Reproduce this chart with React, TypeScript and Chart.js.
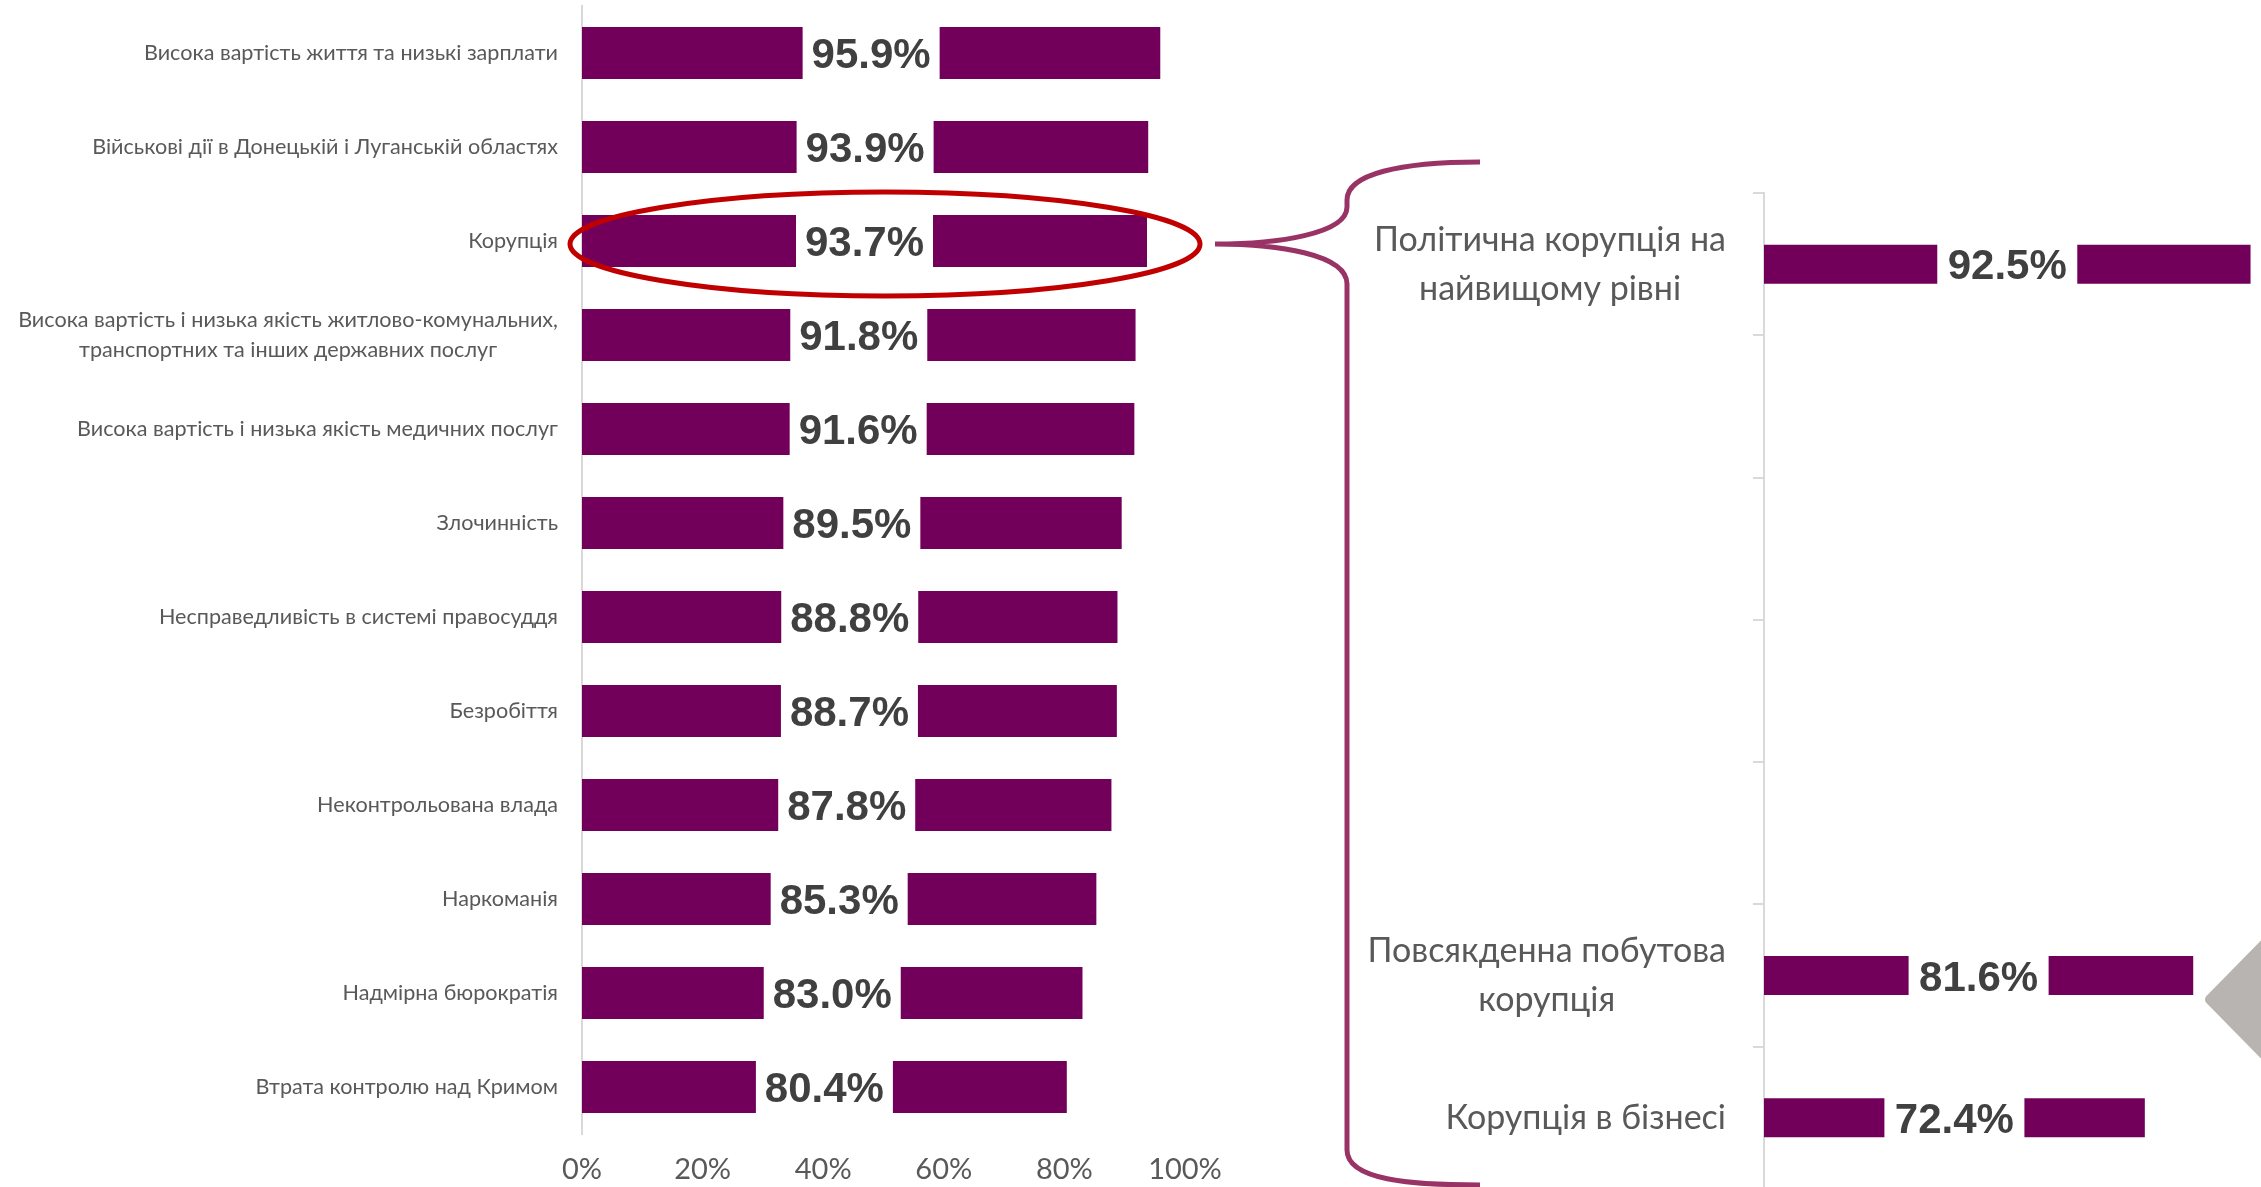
import React, { useEffect, useRef } from 'react';
import { Chart, registerables } from 'chart.js';

Chart.register(...registerables);

// ---------- DATA ----------
const leftCategories: string[][] = [
  ['Висока вартість життя та низькі зарплати'],
  ['Військові дії в Донецькій і Луганській областях'],
  ['Корупція'],
  ['Висока вартість і низька якість житлово-комунальних,', 'транспортних та інших державних послуг'],
  ['Висока вартість і низька якість медичних послуг'],
  ['Злочинність'],
  ['Несправедливість в системі правосуддя'],
  ['Безробіття'],
  ['Неконтрольована влада'],
  ['Наркоманія'],
  ['Надмірна бюрократія'],
  ['Втрата контролю над Кримом'],
];
const leftValues: number[] = [95.9, 93.9, 93.7, 91.8, 91.6, 89.5, 88.8, 88.7, 87.8, 85.3, 83.0, 80.4];
const xTickValues: number[] = [0, 20, 40, 60, 80, 100];
const highlightIndex = 2;

const rightCategories: string[][] = [
  ['Політична корупція на', 'найвищому рівні'],
  [''],
  [''],
  [''],
  [''],
  ['Повсякденна побутова', 'корупція'],
  ['Корупція в бізнесі'],
];
const rightValues: (number | null)[] = [92.5, null, null, null, null, 81.6, 72.4];

// ---------- STYLE ----------
const BAR_COLOR = '#72005a';
const LABEL_COLOR = '#595959';
const VALUE_COLOR = '#404040';
const AXIS_COLOR = '#d9d9d9';
const BRACE_COLOR = '#993366';
const ELLIPSE_COLOR = '#c00000';

const valueLabelPlugin = (boxW: number, fontSize: number) => ({
  id: 'valueLabels',
  afterDatasetsDraw(chart: any) {
    const ctx = chart.ctx;
    const meta = chart.getDatasetMeta(0);
    const data = chart.data.datasets[0].data;
    ctx.save();
    meta.data.forEach((bar: any, i: number) => {
      const v = data[i];
      if (v == null) return;
      const p = bar.getProps(['x', 'y', 'base', 'height'], true);
      const cx = (p.x + p.base) / 2;
      ctx.fillStyle = '#ffffff';
      ctx.fillRect(cx - boxW / 2, p.y - p.height / 2 - 1, boxW, p.height + 2);
      ctx.fillStyle = VALUE_COLOR;
      ctx.font = `bold ${fontSize}px "Liberation Sans", Arial, sans-serif`;
      ctx.textAlign = 'center';
      ctx.textBaseline = 'alphabetic';
      ctx.fillText(Number(v).toFixed(1) + '%', cx, p.y + fontSize * 0.716 / 2);
    });
    ctx.restore();
  },
});

const categoryLabelPlugin = (fontSize: number, lineHeight: number, gap: number) => ({
  id: 'catLabels',
  afterDraw(chart: any) {
    const ctx = chart.ctx;
    const yScale = chart.scales.y;
    const labels = chart.data.labels as string[][];
    ctx.save();
    ctx.font = `${fontSize}px Lato, "Open Sans", sans-serif`;
    ctx.fillStyle = LABEL_COLOR;
    ctx.textAlign = 'center';
    ctx.textBaseline = 'middle';
    labels.forEach((lab, i) => {
      const lines = Array.isArray(lab) ? lab : [lab];
      if (!lines.join('')) return;
      const w = Math.max(...lines.map((l) => ctx.measureText(l).width));
      const right = chart.chartArea.left - gap;
      const cx = right - w / 2;
      const cy = yScale.getPixelForValue(i);
      const n = lines.length;
      lines.forEach((l, j) => ctx.fillText(l, cx, cy + (j - (n - 1) / 2) * lineHeight));
    });
    ctx.restore();
  },
});

const leftDecorPlugin = {
  id: 'leftDecor',
  afterDraw(chart: any) {
    const ctx = chart.ctx;
    const xs = chart.scales.x;
    const ys = chart.scales.y;
    const cy = ys.getPixelForValue(highlightIndex) + 3;
    const left = xs.getPixelForValue(0) - 12;
    const right = xs.getPixelForValue(leftValues[highlightIndex]) + 53;
    const cx = (left + right) / 2;
    const rx = (right - left) / 2;
    ctx.save();
    ctx.strokeStyle = ELLIPSE_COLOR;
    ctx.lineWidth = 5;
    ctx.beginPath();
    ctx.ellipse(cx, cy, rx, 52, 0, 0, Math.PI * 2);
    ctx.stroke();

    // brace
    const tipX = right + 15;
    const vx = 1347;
    const endX = 1480;
    const topY = 162;
    const botY = 1185;
    ctx.strokeStyle = BRACE_COLOR;
    ctx.lineWidth = 5;
    ctx.lineCap = 'butt';
    ctx.beginPath();
    ctx.moveTo(endX, topY);
    ctx.bezierCurveTo(endX - 80, topY, vx, topY + 12, vx, topY + 38);
    ctx.lineTo(vx, topY + 45);
    ctx.bezierCurveTo(vx, cy - 10, vx - 70, cy, tipX, cy);
    ctx.moveTo(tipX, cy);
    ctx.bezierCurveTo(vx - 70, cy, vx, cy + 10, vx, cy + 40);
    ctx.lineTo(vx, botY - 35);
    ctx.bezierCurveTo(vx, botY - 5, endX - 70, botY, endX, botY);
    ctx.stroke();
    ctx.restore();
  },
};

const rightDecorPlugin = {
  id: 'rightDecor',
  afterDraw(chart: any) {
    const ctx = chart.ctx;
    const ys = chart.scales.y;
    const cy = ys.getPixelForValue(5) + 24;
    const tipX = 865;
    ctx.save();
    ctx.fillStyle = '#b8b4b2';
    ctx.strokeStyle = '#b8b4b2';
    ctx.lineJoin = 'round';
    ctx.lineWidth = 10;
    ctx.beginPath();
    ctx.moveTo(tipX + 62, cy - 58);
    ctx.lineTo(tipX + 5, cy);
    ctx.lineTo(tipX + 62, cy + 58);
    ctx.lineTo(tipX + 120, cy + 58);
    ctx.lineTo(tipX + 120, cy - 58);
    ctx.closePath();
    ctx.fill();
    ctx.stroke();
    ctx.restore();
  },
};

export default function App() {
  const leftRef = useRef<HTMLCanvasElement>(null);
  const rightRef = useRef<HTMLCanvasElement>(null);

  useEffect(() => {
    document.body.style.margin = '0';
    const left = new Chart(leftRef.current!, {
      type: 'bar',
      data: {
        labels: leftCategories,
        datasets: [
          {
            data: leftValues,
            backgroundColor: BAR_COLOR,
            barPercentage: 0.555,
            categoryPercentage: 1,
          },
        ],
      },
      options: {
        indexAxis: 'y',
        responsive: false,
        animation: false,
        layout: { padding: { top: 6, right: 315, left: 0, bottom: 0 } },
        plugins: { legend: { display: false }, tooltip: { enabled: false } },
        scales: {
          y: {
            type: 'category',
            ticks: { display: false },
            grid: { display: false },
            border: { display: true, color: AXIS_COLOR, width: 2 },
            afterFit: (s: any) => {
              s.width = 582;
            },
          },
          x: {
            min: 0,
            max: 100,
            afterBuildTicks: (s: any) => {
              s.ticks = xTickValues.map((v) => ({ value: v }));
            },
            ticks: {
              callback: (v: any) => v + '%',
              color: LABEL_COLOR,
              font: { family: 'Lato, "Open Sans", sans-serif', size: 29 },
              padding: 10,
              autoSkip: false,
              maxRotation: 0,
            },
            grid: { display: false },
            border: { display: false },
            afterFit: (s: any) => {
              s.height = 53;
            },
          },
        },
      },
      plugins: [valueLabelPlugin(137, 42), categoryLabelPlugin(21.6, 30, 24), leftDecorPlugin],
    } as any);

    const right = new Chart(rightRef.current!, {
      type: 'bar',
      data: {
        labels: rightCategories,
        datasets: [
          {
            data: rightValues,
            backgroundColor: BAR_COLOR,
            barPercentage: 0.274,
            categoryPercentage: 1,
          },
        ],
      },
      options: {
        indexAxis: 'y',
        responsive: false,
        animation: false,
        layout: { padding: { top: 193, right: 0, left: 0, bottom: 11 } },
        plugins: { legend: { display: false }, tooltip: { enabled: false } },
        scales: {
          y: {
            type: 'category',
            ticks: { display: false },
            grid: {
              display: true,
              drawOnChartArea: false,
              drawTicks: true,
              tickLength: 11,
              color: AXIS_COLOR,
              lineWidth: 2,
              offset: true,
            },
            border: { display: true, color: AXIS_COLOR, width: 2 },
            afterFit: (s: any) => {
              s.width = 424;
            },
          },
          x: {
            display: false,
            min: 0,
            max: 100,
          },
        },
      },
      plugins: [valueLabelPlugin(140, 42), categoryLabelPlugin(34, 49, 38), rightDecorPlugin],
    } as any);

    return () => {
      left.destroy();
      right.destroy();
    };
  }, []);

  return (
    <div
      style={{
        position: 'absolute',
        left: 0,
        top: 0,
        width: 2261,
        height: 1187,
        overflow: 'hidden',
        background: '#ffffff',
      }}
    >
      <canvas
        ref={leftRef}
        width={1500}
        height={1187}
        style={{ position: 'absolute', left: 0, top: 0, width: 1500, height: 1187 }}
      />
      <canvas
        ref={rightRef}
        width={950}
        height={1200}
        style={{ position: 'absolute', left: 1340, top: 0, width: 950, height: 1200 }}
      />
    </div>
  );
}
